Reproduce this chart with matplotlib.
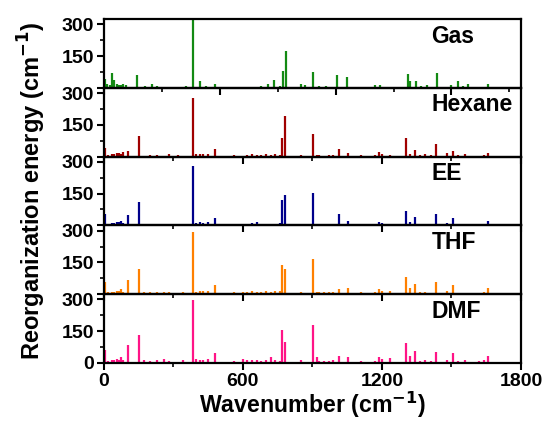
import matplotlib
matplotlib.use("Agg")
import matplotlib.pyplot as plt
from matplotlib.ticker import MultipleLocator, FixedLocator, FixedFormatter

plt.rcParams['font.family'] = ['Liberation Sans', 'DejaVu Sans']
plt.rcParams['font.weight'] = 'bold'
plt.rcParams['mathtext.default'] = 'bf'

# ---------------- data ----------------
gas_wavenumber = [5, 15, 25, 37, 45, 55, 65, 75, 85, 95, 144, 180, 209, 230, 260, 290, 330, 355,
                  387, 416, 440, 479, 520, 560, 600, 640, 680, 709, 734, 760, 774, 787, 820, 849,
                  870, 902, 930, 960, 990, 1007, 1049, 1090, 1130, 1170, 1190, 1230, 1270, 1311,
                  1321, 1345, 1370, 1393, 1436, 1470, 1500, 1527, 1550, 1573, 1610, 1640, 1659]
gas_energy = [40, 20, 12, 70, 35, 18, 15, 12, 18, 15, 62, 8, 17, 8, 6, 5, 6, 10,
              340, 30, 10, 20, 5, 5, 6, 5, 10, 17, 38, 8, 81, 173, 5, 17,
              12, 75, 8, 8, 6, 62, 49, 5, 6, 12, 15, 6, 5, 65,
              33, 33, 8, 14, 68, 6, 12, 30, 8, 17, 6, 5, 17]

solv_wavenumber = [7, 20, 35, 45, 55, 65, 75, 85, 105, 151, 175, 200, 230, 260, 280, 320, 340, 383,
                   400, 416, 430, 450, 479, 500, 520, 560, 600, 620, 640, 660, 680, 700, 720, 740,
                   760, 771, 784, 800, 849, 870, 901, 918, 930, 950, 970, 990, 1013, 1055, 1080,
                   1110, 1140, 1170, 1187, 1200, 1236, 1260, 1280, 1302, 1321, 1344, 1365, 1386,
                   1410, 1432, 1482, 1505, 1530, 1560, 1580, 1620, 1640, 1659]
hexane_energy = [41, 8, 12, 14, 16, 18, 12, 21, 26, 95, 5, 6, 8, 5, 12, 6, 4, 275,
                 12, 14, 14, 12, 37, 4, 4, 6, 5, 8, 12, 6, 8, 10, 6, 10,
                 8, 87, 192, 4, 8, 4, 108, 8, 6, 5, 6, 8, 37, 15, 5,
                 6, 4, 6, 22, 10, 6, 5, 5, 89, 10, 32, 8, 12,
                 8, 60, 15, 27, 8, 10, 5, 5, 6, 15]
ee_energy = [53, 8, 10, 12, 14, 14, 19, 12, 49, 109, 4, 5, 5, 7, 7, 5, 5, 282,
             10, 15, 12, 18, 36, 4, 4, 5, 5, 8, 10, 14, 8, 6, 6, 8,
             10, 121, 143, 4, 6, 4, 151, 6, 5, 5, 5, 6, 52, 20, 4,
             5, 4, 5, 15, 10, 8, 4, 4, 69, 15, 38, 6, 6,
             5, 52, 11, 34, 5, 4, 4, 4, 5, 19]
thf_energy = [58, 8, 10, 12, 14, 14, 22, 10, 66, 121, 8, 10, 8, 10, 10, 6, 10, 293,
              12, 17, 14, 17, 42, 6, 6, 8, 10, 12, 14, 10, 12, 14, 8, 14,
              17, 140, 121, 6, 10, 6, 167, 10, 8, 8, 8, 10, 25, 28, 6,
              8, 6, 8, 22, 14, 14, 6, 6, 83, 27, 49, 8, 10,
              6, 55, 14, 42, 6, 6, 6, 6, 8, 27]
dmf_energy = [60, 10, 12, 14, 20, 16, 26, 12, 83, 134, 13, 10, 12, 18, 10, 6, 12, 296,
              17, 15, 14, 20, 49, 6, 6, 8, 18, 16, 12, 14, 10, 14, 28, 12,
              10, 156, 99, 6, 15, 6, 178, 26, 10, 10, 10, 12, 33, 28, 6,
              8, 6, 8, 26, 20, 22, 6, 6, 94, 33, 57, 8, 15,
              8, 53, 15, 49, 8, 12, 6, 10, 14, 35]

panel_names = ["Gas", "Hexane", "EE", "THF", "DMF"]
panel_x = [gas_wavenumber, solv_wavenumber, solv_wavenumber, solv_wavenumber, solv_wavenumber]
panel_y = [gas_energy, hexane_energy, ee_energy, thf_energy, dmf_energy]
panel_colors = ["#138a13", "#a00000", "#00008b", "#ff8000", "#ff1487"]

# ---------------- figure ----------------
fig = plt.figure(figsize=(5.49, 4.22), dpi=100)
left, right, top, bottom = 0.189, 0.949, 0.955, 0.140
h = (top - bottom) / 5

for i, (name, xs, ys, col) in enumerate(zip(panel_names, panel_x, panel_y, panel_colors)):
    ax = fig.add_axes([left, top - (i + 1) * h, right - left, h])
    ax.patch.set_alpha(0)
    ax.vlines(xs, 0, ys, colors=col, linewidth=1.6)
    ax.set_xlim(0, 1800)
    ax.set_ylim(0, 325)
    for s in ax.spines.values():
        s.set_linewidth(1.6)
        s.set_zorder(3)
    ax.yaxis.set_major_locator(FixedLocator([0, 150, 300]))
    ax.yaxis.set_minor_locator(FixedLocator([75, 225]))
    if i == 4:
        ax.yaxis.set_major_formatter(FixedFormatter(["0", "150", "300"]))
    else:
        ax.yaxis.set_major_formatter(FixedFormatter(["", "150", "300"]))
    if i == 0:
        ax.xaxis.set_major_locator(MultipleLocator(500))
        ax.xaxis.set_minor_locator(MultipleLocator(250))
    else:
        ax.xaxis.set_major_locator(MultipleLocator(600))
        ax.xaxis.set_minor_locator(MultipleLocator(300))
    ax.tick_params(which='major', direction='out', length=5, width=1.5, labelsize=14, pad=2)
    ax.tick_params(which='minor', direction='out', length=3, width=1.2)
    if i < 4:
        ax.tick_params(axis='x', labelbottom=False)
    ax.text(0.785, 0.75, name, transform=ax.transAxes, ha='left', va='center',
            fontsize=16.5, fontweight='bold')
    if i == 4:
        ax.set_xlabel("Wavenumber (cm$^{-1}$)", fontsize=16.7, fontweight='bold', labelpad=0)

fig.text(0.058, (top + bottom) / 2, "Reorganization energy (cm$^{-1}$)", rotation=90,
         ha='center', va='center', fontsize=17, fontweight='bold')

fig.savefig("out.png", dpi=100)
